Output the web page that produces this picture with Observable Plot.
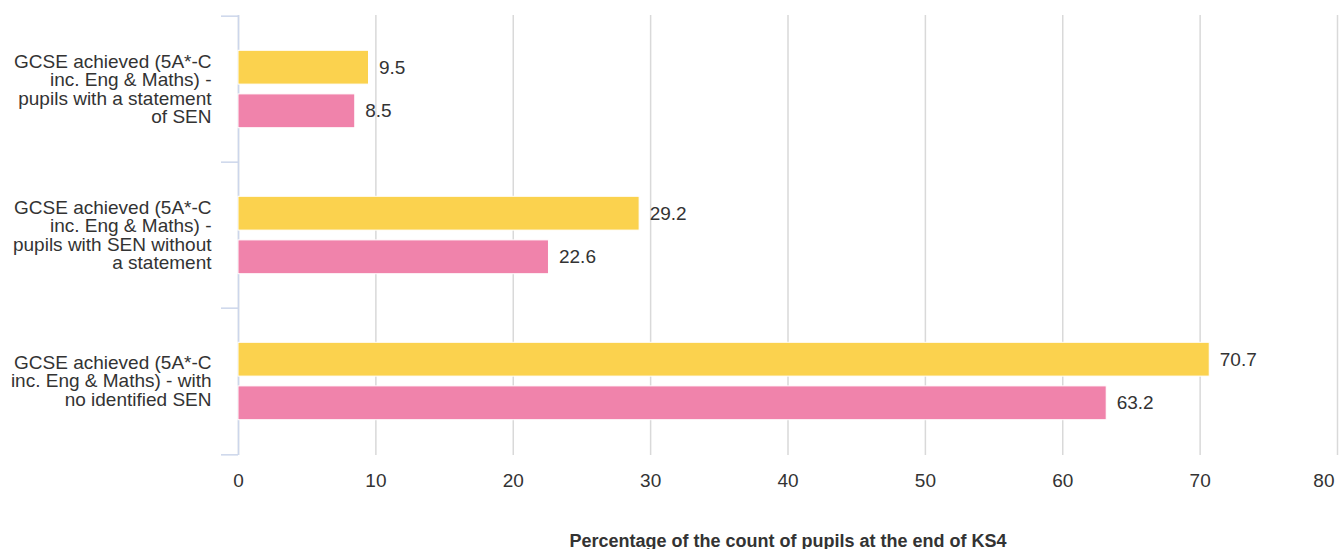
<!DOCTYPE html>
<html><head><meta charset="utf-8">
<script src="https://cdn.jsdelivr.net/npm/d3@7"></script>
<script src="https://cdn.jsdelivr.net/npm/@observablehq/plot@0.6"></script>
<style>html,body{margin:0;padding:0;background:#fff}</style>
</head><body><div id="chart"></div>
<script>
const categories = ["statement", "sen_no_statement", "no_sen"];
const categoryLabels = [
  "GCSE achieved (5A*-C\ninc. Eng & Maths) -\npupils with a statement\nof SEN",
  "GCSE achieved (5A*-C\ninc. Eng & Maths) -\npupils with SEN without\na statement",
  "GCSE achieved (5A*-C\ninc. Eng & Maths) - with\nno identified SEN"
];
const seriesA = [9.5, 29.2, 70.7];   // yellow
const seriesB = [8.5, 22.6, 63.2];   // pink
const xTicks = [0, 10, 20, 30, 40, 50, 60, 70, 80];
const axisTitle = "Percentage of the count of pupils at the end of KS4";

const W = 1344, H = 549, mt = 15, mb = 94, ml = 238, mr = 7;
const bw = (H - mt - mb) / categories.length;
const barH = 34.5, off = 21.8;
const inset = (bw - barH) / 2;
const rowsA = categories.map((c, i) => ({cat: c, value: seriesA[i]}));
const rowsB = categories.map((c, i) => ({cat: c, value: seriesB[i]}));
const font = "'Liberation Sans', Arial, Helvetica, sans-serif";
const innerTicks = xTicks.slice(0, -1);
const lastTick = xTicks.slice(-1);

const chart = Plot.plot({
  width: W, height: H,
  marginTop: mt, marginBottom: mb, marginLeft: ml, marginRight: mr,
  style: {fontFamily: font, fontSize: "19px", color: "#333333", background: "#ffffff"},
  x: {domain: [0, 80], axis: null},
  y: {domain: categories, padding: 0, axis: null},
  marks: [
    Plot.gridX(xTicks, {stroke: "#d9d9d9", strokeOpacity: 1, strokeWidth: 1.5}),
    Plot.ruleX([0], {stroke: "#ccd6eb", strokeWidth: 1.5}),
    Plot.axisY(categories, {tickSize: 17, tickFormat: () => "", dy: -bw / 2, stroke: "#ccd6eb", strokeWidth: 1.5, label: null}),
    Plot.axisY([categories[categories.length - 1]], {tickSize: 17, tickFormat: () => "", dy: bw / 2, stroke: "#ccd6eb", strokeWidth: 1.5, label: null}),
    Plot.text(categories, {y: d => d, frameAnchor: "left", dx: -27, textAnchor: "end",
      text: (d, i) => categoryLabels[i], lineHeight: 0.98, fontSize: 19, fill: "#333333"}),
    Plot.barX(rowsA, {y: "cat", x: "value", fill: "#fbd24e", stroke: "#ffffff", strokeWidth: 1,
      insetTop: inset, insetBottom: inset, dy: -off}),
    Plot.barX(rowsB, {y: "cat", x: "value", fill: "#f083ab", stroke: "#ffffff", strokeWidth: 1,
      insetTop: inset, insetBottom: inset, dy: off}),
    Plot.text(rowsA, {y: "cat", x: "value", text: d => d.value.toFixed(1), dx: 10, dy: -off,
      textAnchor: "start", fontSize: 19, fill: "#333333"}),
    Plot.text(rowsB, {y: "cat", x: "value", text: d => d.value.toFixed(1), dx: 10, dy: off,
      textAnchor: "start", fontSize: 19, fill: "#333333"}),
    Plot.axisX(innerTicks, {tickSize: 0, tickPadding: 18, fontSize: 19, label: null, fill: "#333333"}),
    Plot.axisX(lastTick, {tickSize: 0, tickPadding: 18, fontSize: 19, label: null, fill: "#333333",
      textAnchor: "end", dx: -3}),
    Plot.text([axisTitle], {frameAnchor: "bottom", dy: 91, fontWeight: "bold", fontSize: 18, fill: "#333333"})
  ]
});
document.getElementById("chart").appendChild(chart);
</script>
</body></html>
